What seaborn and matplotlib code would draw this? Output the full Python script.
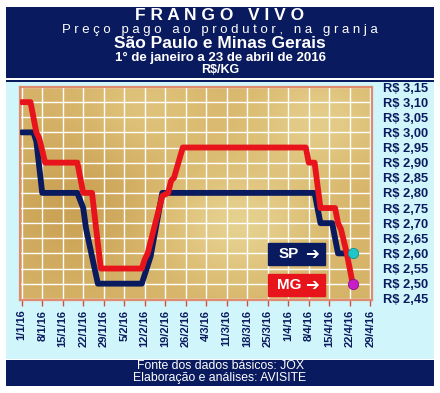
from matplotlib import pyplot as plt
from matplotlib.patches import Rectangle
from matplotlib.colors import LinearSegmentedColormap
import pandas as pd
import numpy as np
import seaborn as sns

# corner points (R$/kg)
sp_dates = ["2016-01-01", "2016-01-05", "2016-01-06", "2016-01-08", "2016-01-20",
            "2016-01-22", "2016-01-23", "2016-01-27", "2016-02-11", "2016-02-14",
            "2016-02-18", "2016-04-10", "2016-04-12", "2016-04-16", "2016-04-18",
            "2016-04-23"]
sp_values = [3.00, 3.00, 2.97, 2.80, 2.80,
             2.75, 2.68, 2.50, 2.50, 2.59,
             2.80, 2.80, 2.70, 2.70, 2.60,
             2.60]

mg_dates = ["2016-01-01", "2016-01-04", "2016-01-06", "2016-01-07", "2016-01-09",
            "2016-01-20", "2016-01-22", "2016-01-25", "2016-01-28", "2016-02-11",
            "2016-02-12", "2016-02-13", "2016-02-18", "2016-02-20", "2016-02-21",
            "2016-02-22", "2016-02-25", "2016-04-07", "2016-04-08", "2016-04-10",
            "2016-04-12", "2016-04-17", "2016-04-18", "2016-04-19", "2016-04-21",
            "2016-04-23"]
mg_values = [3.10, 3.10, 3.00, 2.98, 2.90,
             2.90, 2.80, 2.80, 2.55, 2.55,
             2.58, 2.60, 2.79, 2.80, 2.84,
             2.85, 2.95, 2.95, 2.90, 2.90,
             2.75, 2.75, 2.70, 2.68, 2.60,
             2.50]

tick_labels = ["1/1/16", "8/1/16", "15/1/16", "22/1/16", "29/1/16", "5/2/16",
               "12/2/16", "19/2/16", "26/2/16", "4/3/16", "11/3/16", "18/3/16",
               "25/3/16", "1/4/16", "8/4/16", "15/4/16", "22/4/16", "29/4/16"]
y_ticks = [2.45, 2.50, 2.55, 2.60, 2.65, 2.70, 2.75, 2.80, 2.85, 2.90, 2.95,
           3.00, 3.05, 3.10, 3.15]

navy = "#0a1a5e"
red = "#e8141c"
cyan_bg = "#d0f6fb"

data = pd.concat([
    pd.DataFrame({"Data": pd.to_datetime(sp_dates), "Preço": sp_values, "Estado": "SP"}),
    pd.DataFrame({"Data": pd.to_datetime(mg_dates), "Preço": mg_values, "Estado": "MG"}),
])

sns.set_style("white")
plt.rcParams["font.family"] = ["Liberation Sans", "DejaVu Sans"]

fig = plt.figure(figsize=(4.4, 3.93), dpi=100)
fig.patch.set_facecolor("white")

# panels: header, light cyan body, footer
def panel(top, height, color):
    fig.add_artist(Rectangle((6 / 440, 1 - (top + height) / 393), 428 / 440, height / 393,
                             transform=fig.transFigure, facecolor=color,
                             edgecolor="none", zorder=-1))

panel(7, 71, navy)
panel(80, 1.5, navy)
panel(81.5, 277, cyan_bg)
panel(360, 26, navy)

fig.text(0.5, 1 - 16 / 393, "F R A N G O   V I V O", color="white",
         fontsize=12.5, fontweight="bold", ha="center", va="center")
fig.text(0.5, 1 - 30.5 / 393, "P r e ç o   p a g o   a o   p r o d u t o r ,   n a   g r a n j a",
         color="white", fontsize=9.5, ha="center", va="center")
fig.text(0.5, 1 - 44 / 393, "São Paulo e Minas Gerais", color="white",
         fontsize=12.5, fontweight="bold", ha="center", va="center")
fig.text(0.5, 1 - 57.5 / 393, "1° de janeiro a 23 de abril de 2016", color="white",
         fontsize=9.5, fontweight="bold", ha="center", va="center")
fig.text(0.5, 1 - 70 / 393, "R$/KG", color="white",
         fontsize=9, fontweight="bold", ha="center", va="center")
fig.text(0.5, 1 - 366 / 393, "Fonte dos dados básicos: JOX", color="white",
         fontsize=8.8, ha="center", va="center")
fig.text(0.5, 1 - 378.5 / 393, "Elaboração e análises: AVISITE", color="white",
         fontsize=8.8, ha="center", va="center")

ax = fig.add_axes([20 / 440, 1 - 300 / 393, 352 / 440, 213 / 393])

# golden background texture
gx, gy = np.meshgrid(np.linspace(0, 1, 200), np.linspace(0, 1, 200))
tex = (0.45
       + 0.35 * np.exp(-((gx - 0.62) ** 2 / 0.05 + (gy - 0.35) ** 2 / 0.08))
       + 0.30 * np.exp(-((gx - 0.85) ** 2 / 0.04 + (gy - 0.85) ** 2 / 0.06))
       + 0.20 * np.exp(-((gx - 0.35) ** 2 / 0.03 + (gy - 0.9) ** 2 / 0.05))
       - 0.20 * np.exp(-((gx - 0.15) ** 2 / 0.04 + (gy - 0.45) ** 2 / 0.1)))
gold = LinearSegmentedColormap.from_list("gold", ["#c89e50", "#ddbf76", "#efe2a8"])
ax.imshow(tex, cmap=gold, vmin=0.2, vmax=1.0, extent=(0, 1, 0, 1),
          transform=ax.transAxes, aspect="auto", zorder=0, origin="lower")

sns.lineplot(data=data, x="Data", y="Preço", hue="Estado",
             palette={"SP": navy, "MG": red}, hue_order=["SP", "MG"],
             linewidth=4.2, legend=False, ax=ax, zorder=3)

ax.scatter(pd.to_datetime([sp_dates[-1]]), [sp_values[-1]], s=55, color="#1fc6c8",
           edgecolor="#0e8f96", linewidth=0.6, zorder=5)
ax.scatter(pd.to_datetime([mg_dates[-1]]), [mg_values[-1]], s=55, color="#c81ec8",
           edgecolor="#8a0f8a", linewidth=0.6, zorder=5)

# SP / MG tags
for yb, txt, col in [(1 - (265 - 87) / 213, "SP", navy),
                     (1 - (296 - 87) / 213, "MG", red)]:
    ax.add_patch(Rectangle((248 / 352, yb), 57 / 352, 22 / 213,
                           transform=ax.transAxes, color=col, zorder=6))
    ax.text(269 / 352, yb + 11 / 213, txt, transform=ax.transAxes, color="white",
            fontsize=11, fontweight="bold", ha="center", va="center", zorder=7)
    ax.text(292 / 352, yb + 11 / 213, "➔", transform=ax.transAxes, color="white",
            fontsize=12, fontweight="bold", ha="center", va="center", zorder=7,
            family=["DejaVu Sans"])

tick_pos = pd.to_datetime(tick_labels, format="%d/%m/%y")
start = pd.Timestamp(sp_dates[0])
ax.set_xlim(start - pd.Timedelta(hours=14), start + pd.Timedelta(days=119.6))
ax.set_ylim(2.446, 3.15)
ax.set_xticks(tick_pos)
ax.set_xticklabels(tick_labels, rotation=90, fontsize=8, fontweight="bold", color=navy)
ax.set_yticks(y_ticks)
ax.set_yticklabels([f"R$ {v:.2f}".replace(".", ",") for v in y_ticks],
                   fontsize=9.3, fontweight="bold", color=navy)
ax.yaxis.tick_right()
ax.tick_params(axis="y", length=0, pad=8)
ax.tick_params(axis="x", length=4, width=1, color="#d05040", pad=3, bottom=True)
ax.grid(True, color="white", linewidth=1)
ax.set_axisbelow(True)
for g in ax.get_xgridlines() + ax.get_ygridlines():
    g.set_zorder(1)
ax.set_xlabel("")
ax.set_ylabel("")
for s in ax.spines.values():
    s.set_color("#e08a72")
    s.set_linewidth(1.6)

plt.savefig("out.png", dpi=100)
